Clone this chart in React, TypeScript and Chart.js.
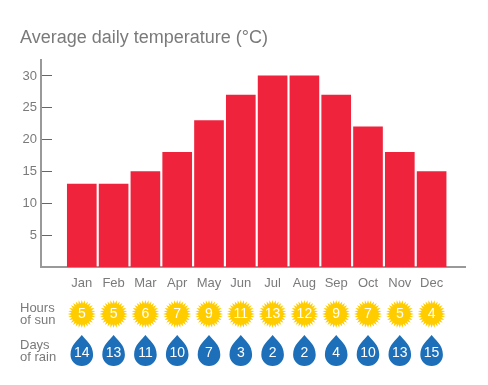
import { useEffect, useRef } from "react";
import { Chart, registerables } from "chart.js";

Chart.register(...registerables);

const months = ["Jan", "Feb", "Mar", "Apr", "May", "Jun", "Jul", "Aug", "Sep", "Oct", "Nov", "Dec"];
const temperature = [13, 13, 15, 18, 23, 27, 30, 30, 27, 22, 18, 15];
const sunHours = [5, 5, 6, 7, 9, 11, 13, 12, 9, 7, 5, 4];
const rainDays = [14, 13, 11, 10, 7, 3, 2, 2, 4, 10, 13, 15];
const yTicks = [5, 10, 15, 20, 25, 30];

const FONT = "'Liberation Sans', Arial, sans-serif";
const GREY = "#7a7a7a";

const iconRows = {
  id: "iconRows",
  afterDatasetsDraw(chart: any) {
    const { ctx, scales } = chart;
    const sunY = 314;
    const rainY = 352;
    ctx.save();
    ctx.textBaseline = "middle";

    ctx.fillStyle = GREY;
    ctx.textAlign = "left";
    ctx.font = `13px ${FONT}`;
    ctx.fillText("Hours", 20, 308);
    ctx.fillText("of sun", 20, 320);
    ctx.fillText("Days", 20, 345);
    ctx.fillText("of rain", 20, 357);

    ctx.textAlign = "center";
    months.forEach((_, i) => {
      const x = scales.x.getPixelForValue(i);

      ctx.beginPath();
      const spikes = 28;
      for (let k = 0; k < spikes * 2; k++) {
        const r = k % 2 === 0 ? 14 : 10.2;
        const a = (Math.PI * k) / spikes - Math.PI / 2;
        const px = x + r * Math.cos(a);
        const py = sunY + r * Math.sin(a);
        if (k === 0) ctx.moveTo(px, py);
        else ctx.lineTo(px, py);
      }
      ctx.closePath();
      ctx.fillStyle = "#ffcc00";
      ctx.fill();

      const cy = 354.7;
      const r = 11.3;
      ctx.beginPath();
      ctx.moveTo(x, 335);
      ctx.bezierCurveTo(x + 3.5, 340, x + r, 344.5, x + r, cy);
      ctx.arc(x, cy, r, 0, Math.PI);
      ctx.bezierCurveTo(x - r, 344.5, x - 3.5, 340, x, 335);
      ctx.closePath();
      ctx.fillStyle = "#1c6fb8";
      ctx.fill();

      ctx.fillStyle = "#ffffff";
      ctx.font = `14px ${FONT}`;
      ctx.fillText(String(sunHours[i]), x, sunY + 0.5);
      ctx.fillText(String(rainDays[i]), x, rainY + 1);
    });
    ctx.restore();
  },
};

export default function App() {
  const ref = useRef<HTMLCanvasElement>(null);

  useEffect(() => {
    const chart = new Chart(ref.current!, {
      type: "bar",
      data: {
        datasets: [
          {
            data: temperature.map((y, x) => ({ x, y })),
            backgroundColor: "#ef233c",
            barThickness: 29,
          },
        ],
      },
      plugins: [iconRows],
      options: {
        animation: false,
        responsive: false,
        devicePixelRatio: 1,
        layout: { padding: { left: 20, right: 23, top: 0, bottom: 0 } },
        plugins: {
          legend: { display: false },
          tooltip: { enabled: false },
          title: {
            display: true,
            text: "Average daily temperature (°C)",
            align: "start",
            color: GREY,
            font: { family: FONT, size: 18, weight: "normal", lineHeight: 1.2 },
            padding: { top: 27, bottom: 11.4 },
          },
        },
        scales: {
          x: {
            type: "linear",
            offset: false,
            min: -1.283,
            max: 12.05,
            afterBuildTicks: (s: any) => {
              s.ticks = months.map((_, value) => ({ value }));
            },
            afterFit: (s: any) => {
              s.height = 118;
            },
            ticks: {
              autoSkip: false,
              maxRotation: 0,
              padding: 9,
              color: GREY,
              font: { family: FONT, size: 13 },
              callback: (v: any) => months[v] ?? "",
            },
            grid: { display: false, drawTicks: false },
            border: { color: "#999999", width: 2 },
          },
          y: {
            min: 0,
            max: 32.5,
            afterBuildTicks: (s: any) => {
              s.ticks = yTicks.map((value) => ({ value }));
            },
            afterFit: (s: any) => {
              s.width = 21;
            },
            ticks: {
              padding: 15,
              color: GREY,
              font: { family: FONT, size: 13 },
            },
            grid: {
              drawOnChartArea: false,
              tickLength: -11,
              tickColor: "#666666",
              tickWidth: 1,
            },
            border: { color: "#999999", width: 2 },
          },
        },
      },
    } as any);
    return () => chart.destroy();
  }, []);

  return (
    <canvas
      ref={ref}
      width={488}
      height={385}
      style={{ position: "absolute", left: 0, top: 0, display: "block" }}
    />
  );
}
